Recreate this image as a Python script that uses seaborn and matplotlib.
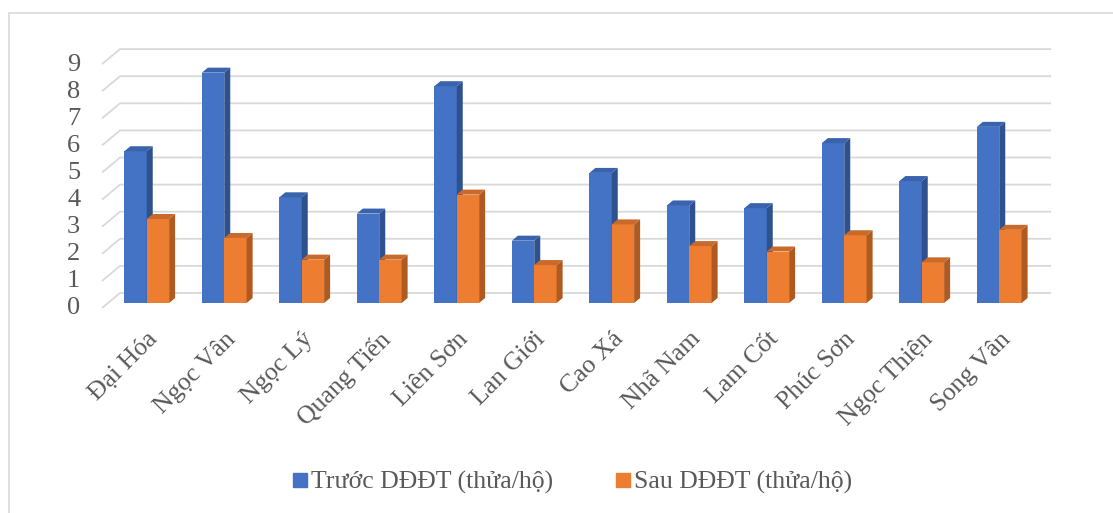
import matplotlib
matplotlib.use("Agg")
import matplotlib.pyplot as plt
import matplotlib.transforms as mtransforms
from matplotlib.patches import Polygon, Rectangle
from matplotlib.lines import Line2D
import seaborn as sns
import pandas as pd

# ---- data ----
communes = ["Đại Hóa", "Ngọc Vân", "Ngọc Lý", "Quang Tiến", "Liên Sơn", "Lan Giới",
            "Cao Xá", "Nhã Nam", "Lam Cốt", "Phúc Sơn", "Ngọc Thiện", "Song Vân"]
before = [5.6, 8.5, 3.9, 3.3, 8.0, 2.3, 4.8, 3.6, 3.5, 5.9, 4.5, 6.5]
after = [3.1, 2.4, 1.6, 1.6, 4.0, 1.4, 2.9, 2.1, 1.9, 2.5, 1.5, 2.7]
series = ["Trước DĐĐT (thửa/hộ)", "Sau DĐĐT (thửa/hộ)"]
yticks = list(range(10))

df = pd.DataFrame({
    "commune": communes * 2,
    "value": before + after,
    "series": [series[0]] * len(communes) + [series[1]] * len(communes),
})

front = ["#4472C4", "#ED7D31"]
side = ["#2F528F", "#AE5A21"]
top = ["#3A63AE", "#C9692A"]
text_c = "#595959"
grid_c = "#D9D9D9"

sns.set_style("white")
plt.rcParams["font.family"] = ["Liberation Serif", "DejaVu Serif"]

W, H = 1113, 513
fig = plt.figure(figsize=(W / 100, H / 100), dpi=100)
# chart border (only top/left visible)
fig.add_artist(Rectangle((9 / W, -0.1), 1.2, (H - 13) / H + 0.1, transform=fig.transFigure,
                         fill=False, edgecolor=grid_c, linewidth=1.2))

px_x = 77.5  # pixels per category
px_y = 27.1  # pixels per unit
ax = fig.add_axes([108 / W, 210 / H, 12 * px_x / W, 10 * px_y / H])

sns.barplot(data=df, x="commune", y="value", hue="series", palette=front,
            width=0.577, saturation=1, legend=False, ax=ax, zorder=3)
ax.set_xlim(-0.5, 11.5)
ax.set_ylim(0, 10)

# 3D depth for bars
dxd, dyd = 6 / px_x, 5 / px_y
for k, cont in enumerate(ax.containers):
    for p in cont:
        x0, w, h = p.get_x(), p.get_width(), p.get_height()
        p.set_zorder(3 + 2 * k)
        p.set_edgecolor("none")
        sp = Polygon([(x0 + w, 0), (x0 + w + dxd, dyd), (x0 + w + dxd, h + dyd), (x0 + w, h)],
                     closed=True, facecolor=side[k], edgecolor="none", zorder=3.5 + 2 * k)
        tp = Polygon([(x0, h), (x0 + dxd, h + dyd), (x0 + w + dxd, h + dyd), (x0 + w, h)],
                     closed=True, facecolor=top[k], edgecolor="none", zorder=3.5 + 2 * k)
        ax.add_patch(sp)
        ax.add_patch(tp)

# back-wall gridlines with a slanted side-wall segment
gx_front = (102 - 146.7) / px_x
gx_back = (120 - 146.7) / px_x
gx_right = (1051 - 146.7) / px_x
back_dy = 10 / px_y
diag_dy = 15 / px_y
for v in yticks:
    yb = v + back_dy
    ax.plot([gx_front, gx_back, gx_right], [yb - diag_dy, yb, yb], color=grid_c,
            linewidth=1.3, zorder=1, clip_on=False, solid_capstyle="butt")

for s in ax.spines.values():
    s.set_visible(False)
ax.set_xlabel("")
ax.set_ylabel("")
ax.set_yticks(yticks)
ax.set_yticklabels([str(v) for v in yticks])
ax.tick_params(axis="y", length=0, pad=20, labelsize=19, labelcolor=text_c)
ax.tick_params(axis="x", length=0, pad=18, labelsize=18.5, labelcolor=text_c)
shift = mtransforms.ScaledTranslation(0, -3 / 100, fig.dpi_scale_trans)
for lab in ax.get_yticklabels():
    lab.set_transform(lab.get_transform() + shift)
for lab in ax.get_xticklabels():
    lab.set_rotation(45)
    lab.set_ha("right")
    lab.set_rotation_mode("anchor")

handles = [Line2D([], [], marker="s", linestyle="none", markersize=10.5,
                  markerfacecolor=c, markeredgecolor=c) for c in front]
leg = fig.legend(handles, series, loc="center", bbox_to_anchor=(0.513, 0.060), ncol=2,
                 frameon=False, fontsize=18.5, handletextpad=0.05, columnspacing=2.3,
                 handlelength=0.8, borderaxespad=0)
for t in leg.get_texts():
    t.set_color(text_c)

fig.savefig("out.png", dpi=100)
